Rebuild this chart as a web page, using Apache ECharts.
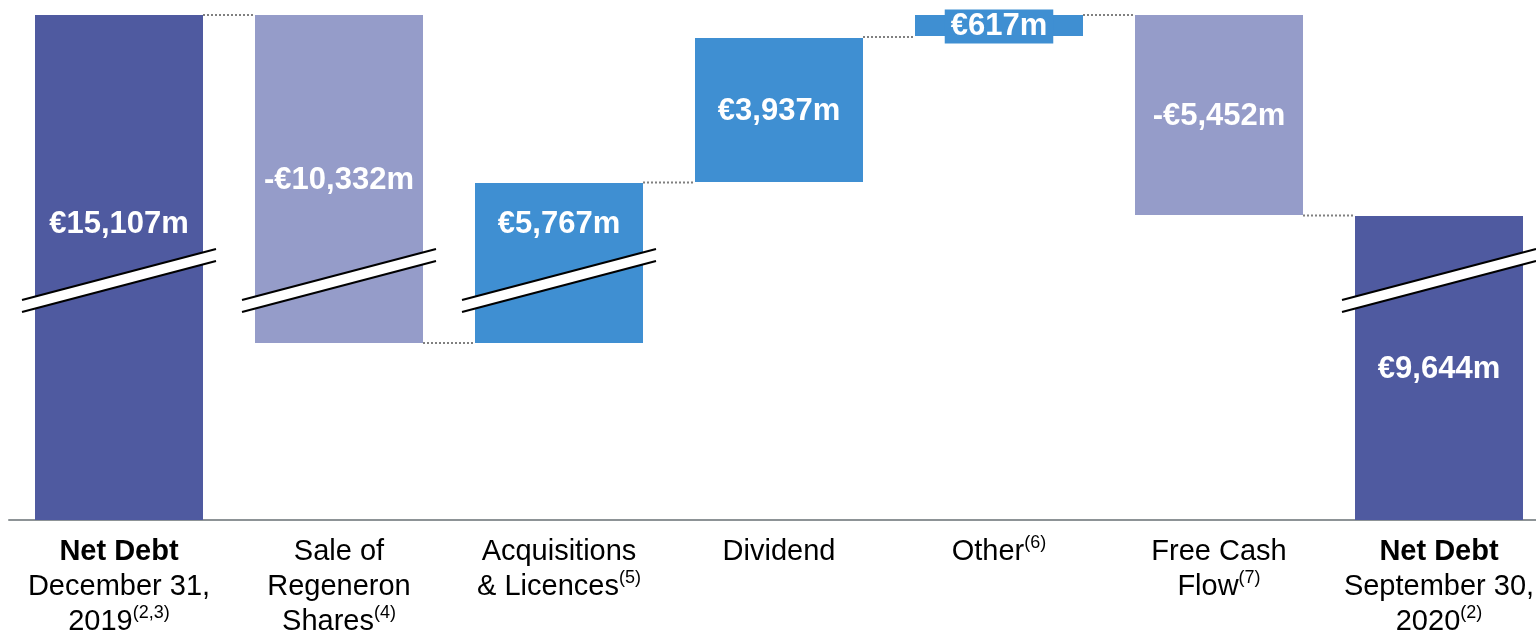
<!DOCTYPE html>
<html>
<head>
<meta charset="utf-8">
<script src="https://cdn.jsdelivr.net/npm/echarts@6/dist/echarts.min.js"></script>
<style>
    html, body { margin: 0; padding: 0; background: #fff; overflow: hidden; }
    #chart { width: 1549px; height: 633px; }
</style>
</head>
<body>
<div id="chart"></div>
<script>
// categories and footnote markers for the x axis
let categories = ["Net Debt\nDecember 31,\n2019", "Sale of\nRegeneron\nShares", "Acquisitions\n& Licences", "Dividend", "Other", "Free Cash\nFlow", "Net Debt\nSeptember 30,\n2020"];
let footnotes = ["(2,3)", "(4)", "(5)", "", "(6)", "(7)", "(2)"];

// reported amounts (€m)
let amounts = [15107, -10332, 5767, 3937, 617, -5452, 9644];

// drawn extent of each bar on the (broken) scale
let drawnLow = [0, 177, 177, 338, 484, 305, 0];
let drawnHigh = [505, 505, 337, 482, 505, 505, 304];

// which bars carry the axis-break mark, and where the label sits
let hasBreak = [true, true, true, false, false, false, true];
let labelAboveBreak = [true, false, true, false, false, false, false];
let barKind = ["total", "down", "up", "up", "up", "down", "total"];

let breakLevel = 239.5;

let colors = { total: "#4f5aa0", down: "#959cc9", up: "#3f8fd2" };
let fontFam = "'Liberation Sans', Arial, sans-serif";

function fmtAmount(v) {
    let s = "€" + Math.abs(v).toLocaleString("en-US") + "m";
    return v < 0 ? "-" + s : s;
}

let seriesData = [];
for (let i = 0; i < categories.length; i++) {
    seriesData.push([i, drawnLow[i], drawnHigh[i], amounts[i]]);
}

// value shared between neighbouring bars, used for the dotted connectors
function sharedLevel(i) {
    let a = [drawnLow[i], drawnHigh[i]];
    let b = [drawnLow[i + 1], drawnHigh[i + 1]];
    let best = a[0], bestD = Infinity;
    for (let p = 0; p < 2; p++) {
        for (let q = 0; q < 2; q++) {
            let d = Math.abs(a[p] - b[q]);
            if (d < bestD) { bestD = d; best = (a[p] + b[q]) / 2; }
        }
    }
    return best;
}

function renderBar(params, api) {
    let i = params.dataIndex;
    let lowPt = api.coord([i, api.value(1)]);
    let highPt = api.coord([i, api.value(2)]);
    let band = api.size([1, 0])[0];
    let bw = band * 168 / 220;
    let cx = lowPt[0];
    let children = [];

    children.push({
        type: "rect",
        shape: { x: cx - bw / 2, y: highPt[1], width: bw, height: lowPt[1] - highPt[1] },
        style: { fill: colors[barKind[i]] }
    });

    let breakY = api.coord([i, breakLevel])[1];
    if (hasBreak[i]) {
        let hw = bw / 2 + 13;
        let rise = 25.5;
        children.push({
            type: "polygon",
            shape: { points: [[cx - hw, breakY + rise - 6], [cx + hw, breakY - rise - 6], [cx + hw, breakY - rise + 6], [cx - hw, breakY + rise + 6]] },
            style: { fill: "#fff" }
        });
        children.push({
            type: "line",
            shape: { x1: cx - hw, y1: breakY + rise - 6, x2: cx + hw, y2: breakY - rise - 6 },
            style: { stroke: "#000", lineWidth: 2.2 }
        });
        children.push({
            type: "line",
            shape: { x1: cx - hw, y1: breakY + rise + 6, x2: cx + hw, y2: breakY - rise + 6 },
            style: { stroke: "#000", lineWidth: 2.2 }
        });
    }

    if (i < categories.length - 1) {
        let lvl = api.coord([i, sharedLevel(i)])[1];
        let nextX = api.coord([i + 1, 0])[0];
        children.push({
            type: "line",
            shape: { x1: cx + bw / 2, y1: lvl, x2: nextX - bw / 2, y2: lvl },
            style: { stroke: "#808080", lineWidth: 2, lineDash: [2, 2] }
        });
    }

    let labelY = labelAboveBreak[i] ? breakY - 57 : (lowPt[1] + highPt[1]) / 2;
    let small = (lowPt[1] - highPt[1]) < 40;
    children.push({
        type: "text",
        x: cx,
        y: labelY + 1,
        style: {
            text: fmtAmount(api.value(3)),
            fill: "#fff",
            font: "bold 31px " + fontFam,
            align: "center",
            verticalAlign: "middle",
            backgroundColor: small ? colors[barKind[i]] : null,
            padding: small ? [2, 6, 1, 6] : 0
        }
    });

    return { type: "group", children: children };
}

let chart = echarts.init(document.getElementById("chart"));

let option = {
    animation: false,
    grid: { left: 9, right: 0, top: 15, bottom: 113, containLabel: false, outerBoundsMode: "none" },
    xAxis: {
        type: "category",
        data: categories,
        axisLine: { show: true, lineStyle: { color: "#8d9396", width: 2 } },
        axisTick: { show: false },
        axisLabel: {
            interval: 0,
            margin: 14,
            color: "#000",
            fontFamily: fontFam,
            fontSize: 29,
            lineHeight: 35,
            formatter: function (value, index) {
                let lines = value.split("\n");
                let out = [];
                for (let k = 0; k < lines.length; k++) {
                    let line = lines[k];
                    if (line == "Net Debt") line = "{b|Net Debt}";
                    if (k == lines.length - 1 && footnotes[index] != "") {
                        line = line + "{s|" + footnotes[index] + "}";
                    }
                    out.push(line);
                }
                return out.join("\n");
            },
            rich: {
                b: { fontSize: 29, fontWeight: "bold", lineHeight: 35, color: "#000", fontFamily: fontFam },
                s: { fontSize: 18, lineHeight: 32, verticalAlign: "top", color: "#000", fontFamily: fontFam }
            }
        }
    },
    yAxis: {
        type: "value",
        min: 0,
        max: 505,
        show: false
    },
    series: [
        {
            type: "custom",
            renderItem: renderBar,
            encode: { x: 0, y: [1, 2] },
            data: seriesData,
            clip: false
        }
    ]
};

chart.setOption(option);
</script>
</body>
</html>
